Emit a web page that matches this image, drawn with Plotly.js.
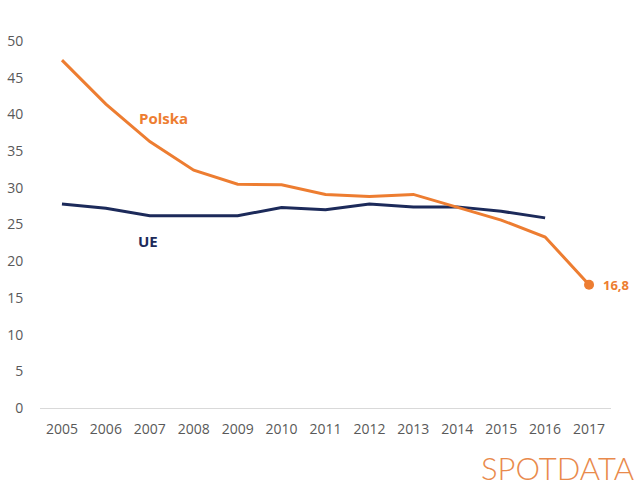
<!DOCTYPE html>
<html>
<head>
<meta charset="utf-8">
<script src="https://cdn.plot.ly/plotly-3.0.1.min.js"></script>
<style>
  html, body { margin: 0; padding: 0; background: #fff; }
  #chart { width: 640px; height: 492px; }
</style>
</head>
<body>
<div id="chart"></div>
<script>
const YEARS = ['2005', '2006', '2007', '2008', '2009', '2010', '2011', '2012', '2013', '2014', '2015', '2016', '2017'];
const POLSKA = [47.4, 41.4, 36.3, 32.4, 30.5, 30.4, 29.1, 28.8, 29.1, 27.4, 25.6, 23.3, 16.8];
const UE = [27.8, 27.2, 26.2, 26.2, 26.2, 27.3, 27.0, 27.8, 27.4, 27.4, 26.8, 25.9];

const ORANGE = '#ED7D31';
const NAVY = '#1C2A5A';
const GREY = '#595959';

const last = POLSKA.length - 1;

const traces = [
  {
    x: YEARS.slice(0, UE.length), y: UE, mode: 'lines',
    line: { color: NAVY, width: 3 }, hoverinfo: 'skip',
  },
  {
    x: YEARS, y: POLSKA, mode: 'lines',
    line: { color: ORANGE, width: 3 }, hoverinfo: 'skip',
  },
  {
    x: [YEARS[last]], y: [POLSKA[last]], mode: 'markers',
    marker: { color: ORANGE, size: 10 }, hoverinfo: 'skip',
  },
];

const layout = {
  width: 640, height: 492,
  margin: { l: 40, r: 29, t: 41, b: 84 },
  paper_bgcolor: '#fff', plot_bgcolor: '#fff',
  showlegend: false,
  font: { family: 'Open Sans, sans-serif', size: 14, color: GREY },
  xaxis: {
    type: 'category', range: [-0.5, 12.5], fixedrange: true,
    showgrid: false, zeroline: false,
    showline: true, linecolor: '#d9d9d9', linewidth: 1,
    ticks: 'outside', ticklen: 8, tickcolor: 'rgba(0,0,0,0)',
    tickfont: { size: 14, color: GREY },
  },
  yaxis: {
    range: [0, 50], dtick: 5, fixedrange: true,
    showgrid: false, zeroline: false, showline: false,
    ticks: 'outside', ticklen: 13, tickcolor: 'rgba(0,0,0,0)',
    tickfont: { size: 14, color: GREY },
  },
  annotations: [
    {
      x: 2.31, y: 39.5, xref: 'x', yref: 'y', text: '<b>Polska</b>', showarrow: false,
      font: { size: 15, color: ORANGE },
    },
    {
      x: 1.97, y: 22.7, xref: 'x', yref: 'y', text: '<b>UE</b>', showarrow: false,
      font: { size: 15, color: NAVY },
    },
    {
      // category axis: use the index so '2017' is not read as a number
      x: last, y: POLSKA[last], xref: 'x', yref: 'y',
      text: '<b>' + POLSKA[last].toFixed(1).replace('.', ',') + '</b>',
      showarrow: false, xanchor: 'left', xshift: 12,
      font: { size: 13, color: ORANGE },
    },
    {
      x: 1, y: 0, xref: 'paper', yref: 'paper', yshift: -60, xshift: 25,
      xanchor: 'right', yanchor: 'middle', showarrow: false,
      text: 'SPOTDATA',
      font: { family: 'Lato, sans-serif', size: 31, color: '#E98A4C', weight: 300 },
    },
  ],
};

Plotly.newPlot('chart', traces, layout, { staticPlot: true, displayModeBar: false });
</script>
</body>
</html>
